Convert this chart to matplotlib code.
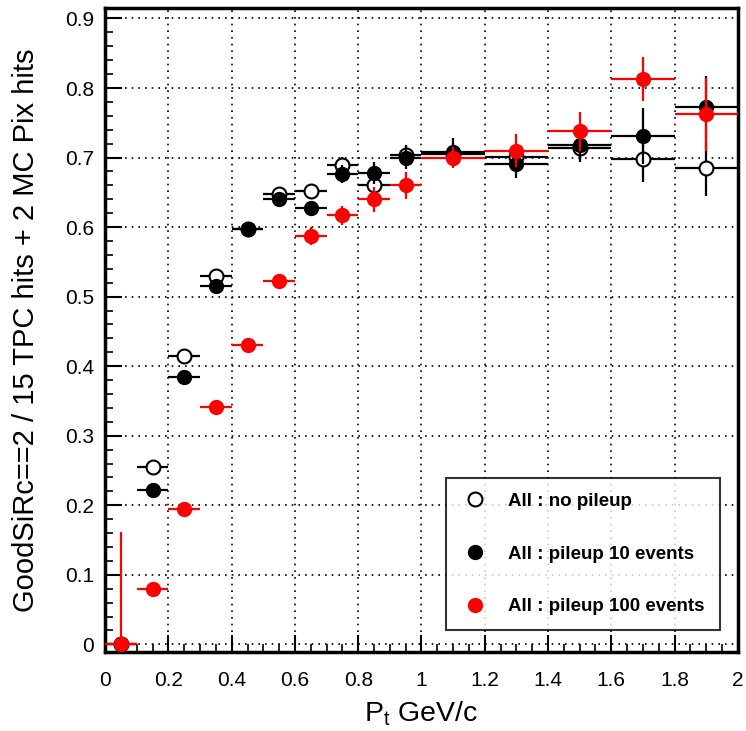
import numpy as np
import matplotlib
matplotlib.use("Agg")
import matplotlib.pyplot as plt
from matplotlib.ticker import MultipleLocator

# bin edges in Pt (GeV/c)
edges = [0.0, 0.1, 0.2, 0.3, 0.4, 0.5, 0.6, 0.7, 0.8, 0.9, 1.0,
         1.2, 1.4, 1.6, 1.8, 2.0]

# efficiency per bin
eff_nopile = [0.0, 0.255, 0.415, 0.530, 0.598, 0.648, 0.652, 0.689, 0.661, 0.703,
              0.705, 0.701, 0.714, 0.698, 0.685]
err_nopile = [0.0, 0.006, 0.007, 0.008, 0.008, 0.009, 0.010, 0.012, 0.014, 0.015,
              0.015, 0.016, 0.020, 0.033, 0.040]

eff_p10 = [0.0, 0.222, 0.384, 0.516, 0.598, 0.640, 0.627, 0.677, 0.678, 0.700,
           0.708, 0.691, 0.718, 0.731, 0.773]
err_p10 = [0.0, 0.006, 0.007, 0.008, 0.008, 0.009, 0.010, 0.013, 0.016, 0.016,
           0.020, 0.020, 0.022, 0.040, 0.045]

eff_p100 = [0.0, 0.080, 0.194, 0.342, 0.430, 0.523, 0.587, 0.617, 0.640, 0.660,
            0.700, 0.710, 0.738, 0.813, 0.762]
err_p100 = [0.162, 0.006, 0.006, 0.007, 0.008, 0.009, 0.013, 0.014, 0.018, 0.019,
            0.015, 0.024, 0.028, 0.031, 0.052]

xticklabels = ["0", "0.2", "0.4", "0.6", "0.8", "1", "1.2", "1.4", "1.6", "1.8", "2"]
yticklabels = ["0", "0.1", "0.2", "0.3", "0.4", "0.5", "0.6", "0.7", "0.8", "0.9"]
labels = ["All : no pileup", "All : pileup 10 events", "All : pileup 100 events"]


def bins():
    e = np.array(edges)
    return (e[:-1] + e[1:]) / 2, (e[1:] - e[:-1]) / 2


def main():
    plt.rcParams['font.family'] = ['Liberation Sans', 'DejaVu Sans']
    fig = plt.figure(figsize=(7.46, 7.31), dpi=100)
    ax = fig.add_axes([0.141, 0.108, 0.848, 0.881])

    x, xe = bins()
    # first bin of 100 events: only upper error
    e100 = np.array(err_p100)
    yerr100 = np.vstack([np.where(x < 0.1, 0, e100), e100])

    ax.errorbar(x, eff_nopile, xerr=xe, yerr=err_nopile, fmt='o', color='black',
                mfc='white', mec='black', mew=1.5, ms=10, elinewidth=1.6,
                capsize=0, label=labels[0], zorder=3)
    ax.errorbar(x, eff_p10, xerr=xe, yerr=err_p10, fmt='o', color='black',
                mfc='black', mec='black', ms=10, elinewidth=1.6,
                capsize=0, label=labels[1], zorder=4)
    ax.errorbar(x, eff_p100, xerr=xe, yerr=yerr100, fmt='o', color='red',
                mfc='red', mec='red', ms=10, elinewidth=1.6,
                capsize=0, label=labels[2], zorder=5)

    ax.set_xlim(0, 2)
    ax.set_ylim(-0.011, 0.915)
    ax.set_xticks(np.arange(0, 2.01, 0.2))
    ax.set_xticklabels(xticklabels)
    ax.set_yticks(np.arange(0, 0.91, 0.1))
    ax.set_yticklabels(yticklabels)
    ax.xaxis.set_minor_locator(MultipleLocator(0.05))
    ax.yaxis.set_minor_locator(MultipleLocator(0.02))

    ax.tick_params(which='major', direction='in', length=12, width=1.5,
                   labelsize=15, top=False, right=False)
    ax.tick_params(axis='x', which='major', pad=14)
    ax.tick_params(axis='y', which='major', pad=8)
    ax.tick_params(which='minor', direction='in', length=6, width=1.2,
                   top=False, right=False)
    for s in ax.spines.values():
        s.set_linewidth(2.5)

    ax.grid(True, which='major', color='black', linestyle=(0, (1, 3)), linewidth=1.2)
    ax.set_axisbelow(True)

    ax.set_xlabel("P$_\\mathregular{t}$ GeV/c", fontsize=20.5, labelpad=6)
    ax.set_ylabel("GoodSiRc==2 / 15 TPC hits + 2 MC Pix hits", fontsize=21, labelpad=18)

    h, l = ax.get_legend_handles_labels()
    h = [hh[0] for hh in h]
    leg = ax.legend(h, l, loc='lower left', bbox_to_anchor=(0.524, 0.019, 0.463, 0.248),
                    mode='expand', frameon=True, fancybox=False, borderpad=0.8,
                    labelspacing=1.9, handletextpad=1.0, handlelength=1.5,
                    prop={'weight': 'bold', 'size': 13.5})
    leg.get_frame().set_edgecolor('black')
    leg.get_frame().set_linewidth(1.5)
    leg.set_zorder(10)

    fig.savefig("out.png", dpi=100)


if __name__ == "__main__":
    main()
